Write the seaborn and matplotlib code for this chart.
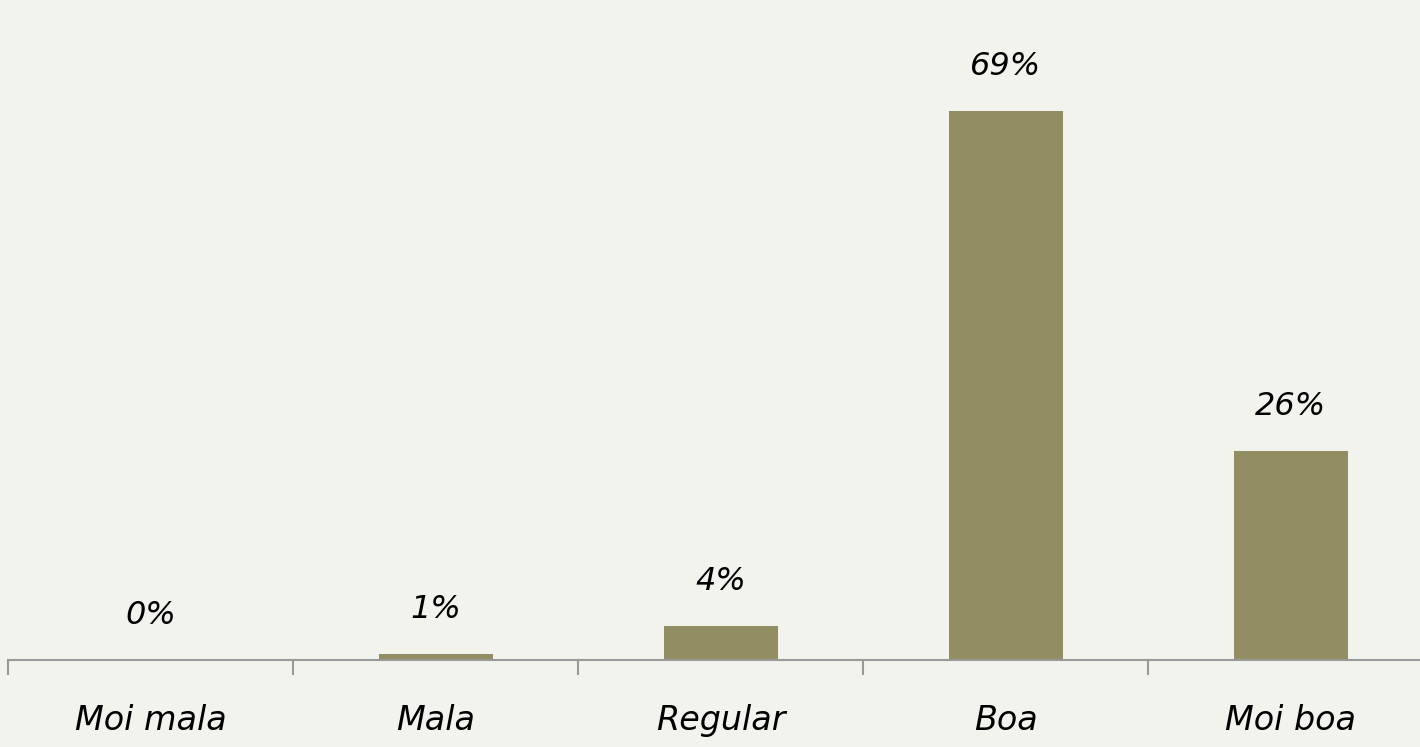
import matplotlib.pyplot as plt
import numpy as np
import pandas as pd
import seaborn as sns

# datos
categorias = ['Moi mala', 'Mala', 'Regular', 'Boa', 'Moi boa']
valores = [0.0, 0.8, 4.2, 68.8, 26.2]
etiquetas = ['0%', '1%', '4%', '69%', '26%']

df = pd.DataFrame({'cat': categorias, 'val': valores})

sns.set_theme(style='white')
plt.rcParams['font.family'] = ['DejaVu Sans']

fondo = '#f3f3ee'
fig = plt.figure(figsize=(14.2, 7.47), dpi=100, facecolor=fondo)
ax = fig.add_axes([8 / 1420, 87 / 747, 1425 / 1420, 660 / 747])
ax.set_facecolor(fondo)

sns.barplot(data=df, x='cat', y='val', color='#928d63', width=0.4,
            saturation=1, linewidth=0, ax=ax)

ax.set_xlim(-0.5, 4.5)
ax.set_ylim(0, 82.7)

for i, (v, t) in enumerate(zip(valores, etiquetas)):
    ax.annotate(t, (i, v), xytext=(0, 29), textcoords='offset pixels',
                ha='center', va='bottom', fontsize=23, style='italic',
                color='black')

for s in ['top', 'right', 'left']:
    ax.spines[s].set_visible(False)
ax.spines['bottom'].set_color('#999999')
ax.spines['bottom'].set_linewidth(1.5)

ax.set_yticks([])
ax.set_xticks(range(len(categorias)))
ax.set_xticklabels(categorias, fontsize=24, style='italic', color='black')
ax.set_xticks(np.arange(-0.5, 5, 1), minor=True)
ax.tick_params(axis='x', which='major', length=0, pad=32)
ax.tick_params(axis='x', which='minor', length=11, width=1.5,
               color='#999999', bottom=True)
ax.set_xlabel('')
ax.set_ylabel('')

fig.savefig('out.png', dpi=100, facecolor=fondo)
